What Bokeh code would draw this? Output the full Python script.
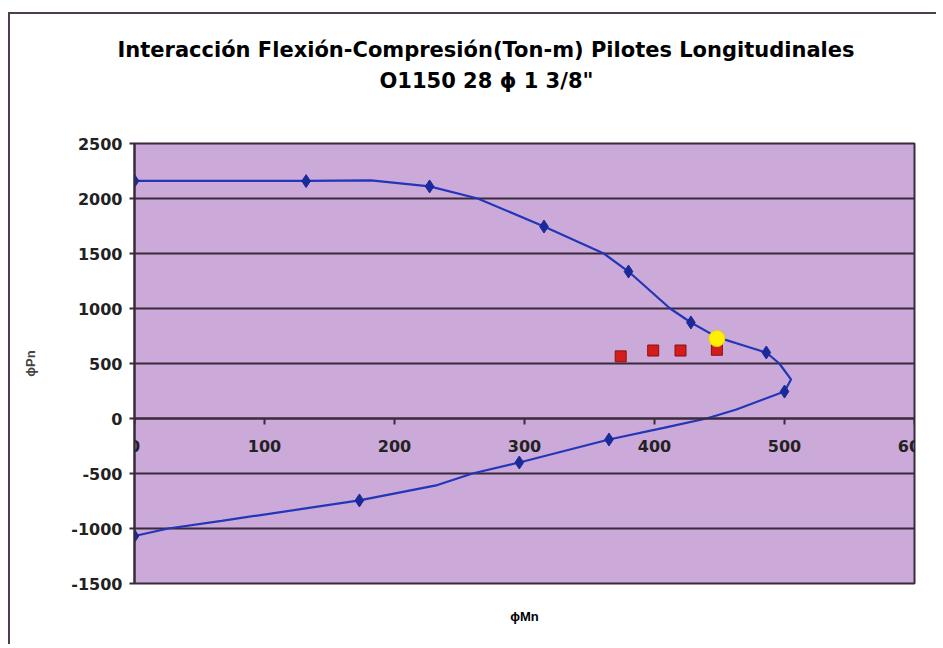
from bokeh.plotting import figure
from bokeh.models import FixedTicker, Title
from bokeh.embed import file_html
from bokeh.resources import INLINE

# Interaction curve (traced line) - phiMn (Ton-m) vs phiPn (Ton)
curve_m = [0, 132, 182, 227, 264, 315, 361, 380, 412, 428, 448, 471, 486, 496, 505, 500, 463, 440, 407, 365, 296, 260, 233, 173, 67, 26, 0]
curve_p = [2160, 2160, 2165, 2110, 2000, 1745, 1500, 1336, 1000, 873, 740, 655, 600, 500, 355, 245, 82, 0, -85, -191, -400, -500, -605, -745, -930, -1000, -1068]

# Diamond markers on the curve
mk_m = [0, 132, 227, 315, 380, 428, 486, 500, 365, 296, 173, 0]
mk_p = [2160, 2158, 2110, 1745, 1336, 873, 600, 245, -191, -400, -745, -1068]

# Demand points (red squares)
dem_m = [374, 399, 420, 448]
dem_p = [565, 618, 618, 625]

# Highlighted point (yellow)
hi_m = [448]
hi_p = [727]

x_ticks = [0, 100, 200, 300, 400, 500, 600]
y_ticks = [-1500, -1000, -500, 0, 500, 1000, 1500, 2000, 2500]

title1 = "Interacción Flexión-Compresión(Ton-m) Pilotes Longitudinales"
title2 = "O1150 28 \u03d5 1 3/8\""
x_title = "\u03d5Mn"
y_title = "\u03d5Pn"

FONT = "Liberation Sans"
DARK = "#3a2a3a"

p = figure(width=928, height=632, x_range=(0, 600), y_range=(-1500, 2500),
           output_backend="svg", toolbar_location=None, title=None,
           min_border_left=124, min_border_right=24,
           min_border_top=129, min_border_bottom=63)
p.styles = {"border-left": "2px solid #4d3d4d", "border-top": "2px solid #4d3d4d",
            "margin-left": "8px", "margin-top": "12px"}

p.background_fill_color = "#cba9d9"
p.border_fill_color = "white"
p.outline_line_color = DARK
p.outline_line_width = 2

# title lines (first added sits closest to the plot)
p.add_layout(Title(text=title2, align="left", offset=245, text_font="DejaVu Sans",
                   text_font_style="bold", text_font_size="21px", text_color="black",
                   standoff=101), "above")
p.add_layout(Title(text=title1, align="left", offset=-17, text_font="DejaVu Sans",
                   text_font_style="bold", text_font_size="21px", text_color="black",
                   standoff=-90), "above")
p.add_layout(Title(text=x_title, align="center", text_font=FONT, text_font_style="bold",
                   text_font_size="13px", text_color="black", standoff=46), "below")

# grid
p.xgrid.visible = False
p.ygrid.ticker = FixedTicker(ticks=y_ticks)
p.ygrid.grid_line_color = DARK
p.ygrid.grid_line_width = 2

neg = {v: str(v) for v in y_ticks if v < 0}

# x axis crossing at y = 0
p.xaxis.fixed_location = 0
p.xaxis.ticker = FixedTicker(ticks=x_ticks)
p.xaxis.axis_line_color = DARK
p.xaxis.axis_line_width = 2
p.xaxis.major_tick_line_color = DARK
p.xaxis.major_tick_line_width = 2
p.xaxis.major_tick_in = 0
p.xaxis.major_tick_out = 6
p.xaxis.minor_tick_line_color = None
p.xaxis.major_label_standoff = 15
p.xaxis.major_label_text_font = "DejaVu Sans"
p.xaxis.major_label_text_font_style = "bold"
p.xaxis.major_label_text_font_size = "16px"
p.xaxis.major_label_text_color = "#222222"

# y axis
p.yaxis.ticker = FixedTicker(ticks=y_ticks)
p.yaxis.major_label_overrides = neg
p.yaxis.axis_line_color = DARK
p.yaxis.axis_line_width = 2
p.yaxis.major_tick_line_color = DARK
p.yaxis.major_tick_line_width = 2
p.yaxis.major_tick_in = 0
p.yaxis.major_tick_out = 5
p.yaxis.minor_tick_line_color = None
p.yaxis.major_label_standoff = 7
p.yaxis.major_label_text_font = "DejaVu Sans"
p.yaxis.major_label_text_font_style = "bold"
p.yaxis.major_label_text_font_size = "16px"
p.yaxis.major_label_text_color = "#222222"
p.yaxis.axis_label = y_title
p.yaxis.axis_label_text_font = FONT
p.yaxis.axis_label_text_font_style = "bold"
p.yaxis.axis_label_text_font_size = "13px"
p.yaxis.axis_label_standoff = 30

# data
p.line(curve_m, curve_p, line_color="#2236b8", line_width=2.2)
p.scatter(mk_m, mk_p, marker="diamond", size=13, fill_color="#1a2a99", line_color="#1a2a99")
p.scatter(dem_m, dem_p, marker="square", size=11, fill_color="#d41c1c", line_color="#8a1010")
p.scatter(hi_m, hi_p, marker="circle", size=16, fill_color="#fff000", line_color="#e8d800")

open("out.html", "w").write(file_html(p, INLINE))
